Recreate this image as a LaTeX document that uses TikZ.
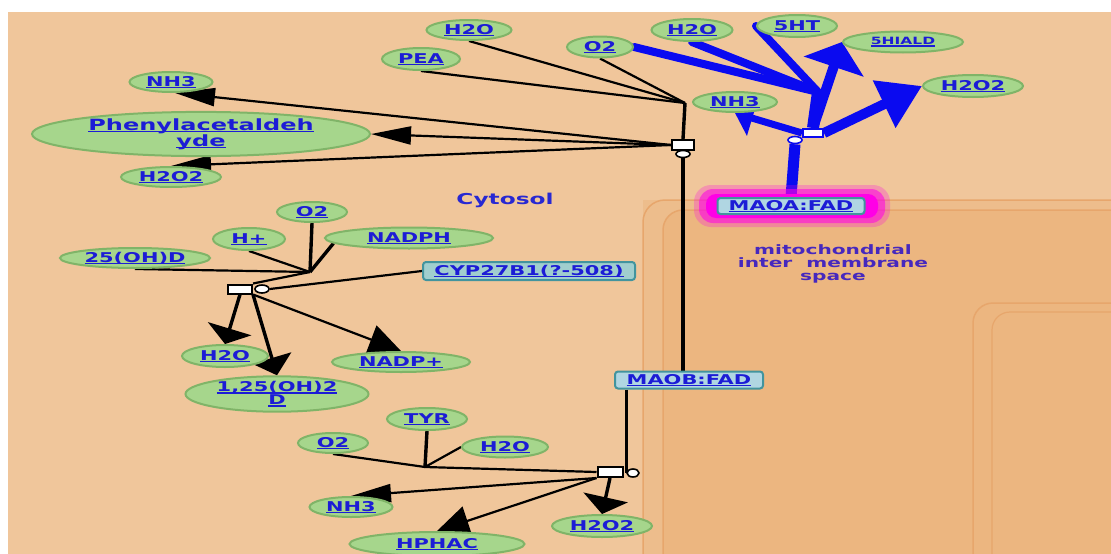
\documentclass[tikz,border=0pt]{standalone}
\usepackage{fontspec}
\usetikzlibrary{shapes.geometric,arrows.meta}
\newfontfamily\labfont{DejaVu Sans}[FakeStretch=1.55]

\definecolor{bgpeach}{RGB}{240,198,155}
\definecolor{bandfill}{RGB}{237,189,140}
\definecolor{mitofill}{RGB}{236,182,128}
\definecolor{mitoline}{RGB}{231,166,108}
\definecolor{metfill}{RGB}{166,214,140}
\definecolor{metedge}{RGB}{128,180,104}
\definecolor{linkblue}{RGB}{28,28,214}
\definecolor{enzfill}{RGB}{176,214,226}
\definecolor{enzedge}{RGB}{66,148,158}
\definecolor{rxnblue}{RGB}{10,10,240}
\definecolor{glow}{RGB}{255,0,230}
\definecolor{labviolet}{RGB}{70,40,190}
\definecolor{cytoblue}{RGB}{40,40,210}

% underlined hyperlink-style label
\newsavebox\lnkbox
\newcommand\lnk[1]{\sbox\lnkbox{#1}\rlap{\rule[-1.8pt]{\wd\lnkbox}{1.2pt}}\usebox\lnkbox}

\pgfdeclarelayer{back}
\pgfdeclarelayer{edges}
\pgfsetlayers{back,edges,main}

\tikzset{
  met/.style={ellipse, draw=metedge, fill=metfill, line width=2pt, inner sep=0pt,
    text=linkblue, align=center,
    font=\labfont\bfseries\fontsize{13.5pt}{13pt}\selectfont},
  enz/.style={rectangle, rounded corners=3pt, draw=enzedge, fill=enzfill, line width=2pt,
    inner sep=0pt, text=linkblue,
    font=\labfont\bfseries\fontsize{13.5pt}{14pt}\selectfont},
  rxn/.style={rectangle, draw=black, fill=white, line width=2pt, inner sep=0pt},
  modc/.style={ellipse, draw=black, fill=white, line width=1.6pt, inner sep=0pt},
  conn/.style={draw=black, line width=2.2pt},
  heavy/.style={draw=black, line width=3.4pt},
  hprod/.style={conn, -{Triangle[length=40pt,width=18pt]}},
  bconn/.style={draw=rxnblue, line width=8pt, line cap=round},
  bprod/.style={draw=rxnblue, line width=10pt},
}

\begin{document}
\begin{tikzpicture}[x=1pt,y=-1pt]
\useasboundingbox (0,0) rectangle (1111,554);

% ---------- compartments ----------
\begin{pgfonlayer}{back}
  \fill[white] (0,0) rectangle (1111,554);
  \fill[bgpeach] (8,12) rectangle (1111,554);
  \begin{scope}
    \clip (8,12) rectangle (1111,554);
    \fill[bandfill] (643,200) rectangle (1160,600);
    \draw[mitoline, line width=1.5pt, rounded corners=22pt]
      (643,600) -- (643,200) -- (1160,200);
    \draw[mitoline, fill=mitofill, line width=1.5pt, rounded corners=20pt]
      (663,600) -- (663,210) -- (1160,210) -- (1160,600) -- cycle;
    \draw[mitoline, line width=1.5pt, rounded corners=20pt]
      (973,600) -- (973,303) -- (1160,303);
    \draw[mitoline, line width=1.2pt, rounded corners=18pt]
      (992,600) -- (992,312) -- (1160,312);
  \end{scope}
\end{pgfonlayer}

% ---------- compartment labels ----------
\node[text=cytoblue, font=\labfont\bfseries\fontsize{15pt}{16pt}\selectfont] (cyto) at (505,200) {Cytosol};
\node[text=labviolet, align=center, font=\labfont\bfseries\fontsize{13pt}{13pt}\selectfont] (mito) at (833,264)
  {mitochondrial\\inter\ \ membrane\\space};

% ---------- PEA oxidation ----------
\node[met, minimum width=83pt, minimum height=20pt] (nh3a) at (171,82) {\lnk{NH3}};
\node[met, minimum width=338pt, minimum height=38pt, font=\labfont\bfseries\fontsize{15.5pt}{15pt}\selectfont]
  (phen) at (201,134) {\lnk{Phenylacetaldeh}\\\lnk{yde}};
\node[met, minimum width=100pt, minimum height=20pt] (h2o2a) at (171,177) {\lnk{H2O2}};
\node[met, minimum width=78pt, minimum height=22pt] (pea) at (421,59) {\lnk{PEA}};
\node[met, minimum width=85pt, minimum height=20pt] (h2oa) at (469,30) {\lnk{H2O}};
\node[met, minimum width=66pt, minimum height=21pt] (o2a) at (600,47) {\lnk{O2}};
\coordinate (j1) at (685,103);
\node[rxn, minimum width=22pt, minimum height=10pt] (r1) at (683,145) {};
\node[modc, minimum width=14pt, minimum height=7pt] (c1) at (683,154) {};

% ---------- 5HT oxidation (MAOA) ----------
\node[met, minimum width=81pt, minimum height=22pt] (h2ob) at (692,30) {\lnk{H2O}};
\node[met, minimum width=80pt, minimum height=22pt] (ht) at (797,26) {\lnk{5HT}};
\node[met, minimum width=120pt, minimum height=21pt, font=\labfont\bfseries\fontsize{10pt}{10pt}\selectfont]
  (hiald) at (903,42) {\lnk{5HIALD}};
\node[met, minimum width=100pt, minimum height=22pt] (h2o2b) at (973,86) {\lnk{H2O2}};
\node[met, minimum width=84pt, minimum height=20pt] (nh3b) at (735,102) {\lnk{NH3}};
\coordinate (jb) at (818,92);
\node[rectangle, draw=rxnblue, fill=white, line width=2pt, inner sep=0pt,
  minimum width=20pt, minimum height=8pt] (rb) at (813,133) {};
\node[ellipse, draw=rxnblue, fill=white, line width=1.6pt, inner sep=0pt,
  minimum width=14pt, minimum height=7pt] (cb) at (795,140) {};

\fill[glow, opacity=.25, rounded corners=17pt] (694,185) rectangle (890,227);
\fill[glow, opacity=.55, rounded corners=14pt] (699,189) rectangle (885,223);
\fill[glow, rounded corners=10pt] (706,194) rectangle (878,218);
\node[enz, minimum width=147pt, minimum height=16pt] (maoa) at (791,206) {\lnk{MAOA:FAD}};

% ---------- 25(OH)D hydroxylation ----------
\node[met, minimum width=70pt, minimum height=20pt] (o2m) at (312,212) {\lnk{O2}};
\node[met, minimum width=72pt, minimum height=22pt] (hp) at (249,239) {\lnk{H+}};
\node[met, minimum width=150pt, minimum height=20pt] (oh25) at (135,258) {\lnk{25(OH)D}};
\node[met, minimum width=168pt, minimum height=21pt] (nadph) at (409,238) {\lnk{NADPH}};
\node[enz, minimum width=212pt, minimum height=18pt, fill={rgb,255:red,160;green,206;blue,206}]
  (cyp) at (529,271) {\lnk{CYP27B1(?-508)}};
\coordinate (j2) at (310,272);
\node[rxn, minimum width=24pt, minimum height=9pt] (r2) at (240,289) {};
\node[modc, minimum width=14pt, minimum height=8pt] (c2) at (262,289) {};
\node[met, minimum width=86pt, minimum height=22pt] (h2om) at (225,356) {\lnk{H2O}};
\node[met, minimum width=183pt, minimum height=32pt] (oh125) at (277,394) {\lnk{1,25(OH)2}\\\lnk{D}};
\node[met, minimum width=138pt, minimum height=20pt] (nadp) at (401,362) {\lnk{NADP+}};

% ---------- TYR oxidation (MAOB) ----------
\node[enz, minimum width=148pt, minimum height=17pt] (maob) at (689,380) {\lnk{MAOB:FAD}};
\node[met, minimum width=80pt, minimum height=22pt] (tyr) at (427,419) {\lnk{TYR}};
\node[met, minimum width=70pt, minimum height=20pt] (o2c) at (333,443) {\lnk{O2}};
\node[met, minimum width=86pt, minimum height=21pt] (h2oc) at (505,447) {\lnk{H2O}};
\coordinate (j3) at (425,467);
\node[rxn, minimum width=25pt, minimum height=10pt] (r3) at (610,472) {};
\node[modc, minimum width=12pt, minimum height=8pt] (c3) at (633,473) {};
\node[met, minimum width=83pt, minimum height=20pt] (nh3c) at (351,507) {\lnk{NH3}};
\node[met, minimum width=175pt, minimum height=24pt] (hphac) at (437,544) {\lnk{HPHAC}};
\node[met, minimum width=100pt, minimum height=22pt] (h2o2c) at (602,526) {\lnk{H2O2}};

% ---------- connectors ----------
\begin{pgfonlayer}{edges}
  % PEA + H2O + O2 -> NH3 + Phenylacetaldehyde + H2O2
  \draw[conn] (pea.south) -- (j1);
  \draw[conn] (h2oa.south) -- (j1);
  \draw[conn] (o2a.south) -- (j1);
  \draw[heavy] (j1) -- (r1.north);
  \draw[hprod] (r1.west) -- (nh3a.-70);
  \draw[hprod] (r1.west) -- (phen.east);
  \draw[hprod] (r1.west) -- (h2o2a.north);
  \draw[heavy] (c1.south) -- (c1.south |- maob.north);

  % 5HT + O2 + H2O -> 5HIALD + H2O2 + NH3
  \draw[bconn] (o2a.east) -- (jb);
  \draw[bconn] (h2ob.south) -- (jb);
  \draw[bconn] (ht.west) -- (jb);
  \draw[draw=rxnblue, line width=12pt] (jb) -- (rb.north);
  \draw[bprod, -{Triangle[length=26pt,width=62pt]}] (rb.north) -- (hiald.west);
  \draw[bprod, -{Triangle[length=42pt,width=50pt]}] (rb.east) -- (h2o2b.west);
  \draw[draw=rxnblue, line width=7pt, -{Triangle[length=18pt,width=36pt]}] (rb.west) -- (nh3b.south);
  \draw[draw=rxnblue, line width=11pt] (maoa.north) -- (cb.south);

  % 25(OH)D + H+ + O2 + NADPH -> 1,25(OH)2D + H2O + NADP+
  \draw[heavy] (o2m.south) -- (j2);
  \draw[conn] (hp.south) -- (j2);
  \draw[conn] (oh25.south) -- (j2);
  \draw[heavy] (nadph.184) -- (j2);
  \draw[conn] (j2) -- (r2.north east);
  \draw[conn] (c2.east) -- (cyp.west);
  \draw[heavy, -{Triangle[length=16pt,width=45pt]}] (r2.south) -- (h2om.north);
  \draw[heavy, -{Triangle[length=18pt,width=40pt]}] (r2.south east) -- (oh125.north);
  \draw[conn, -{Triangle[length=32pt,width=30pt]}] (r2.south east) -- (nadp.north);

  % TYR + O2 + H2O -> NH3 + HPHAC + H2O2
  \draw[conn] (o2c.south) -- (j3);
  \draw[heavy] (tyr.south) -- (j3);
  \draw[conn] (h2oc.west) -- (j3);
  \draw[conn] (j3) -- (r3.west);
  \draw[hprod] (r3.south west) -- (nh3c.north);
  \draw[conn, -{Triangle[length=32pt,width=30pt]}] (r3.south west) -- (hphac.north);
  \draw[heavy, -{Triangle[length=17pt,width=45pt]}] (r3.south) -- (h2o2c.north);
  \draw[heavy] (c3.west |- maob.south) -- (c3.west);
\end{pgfonlayer}
\end{tikzpicture}
\end{document}
